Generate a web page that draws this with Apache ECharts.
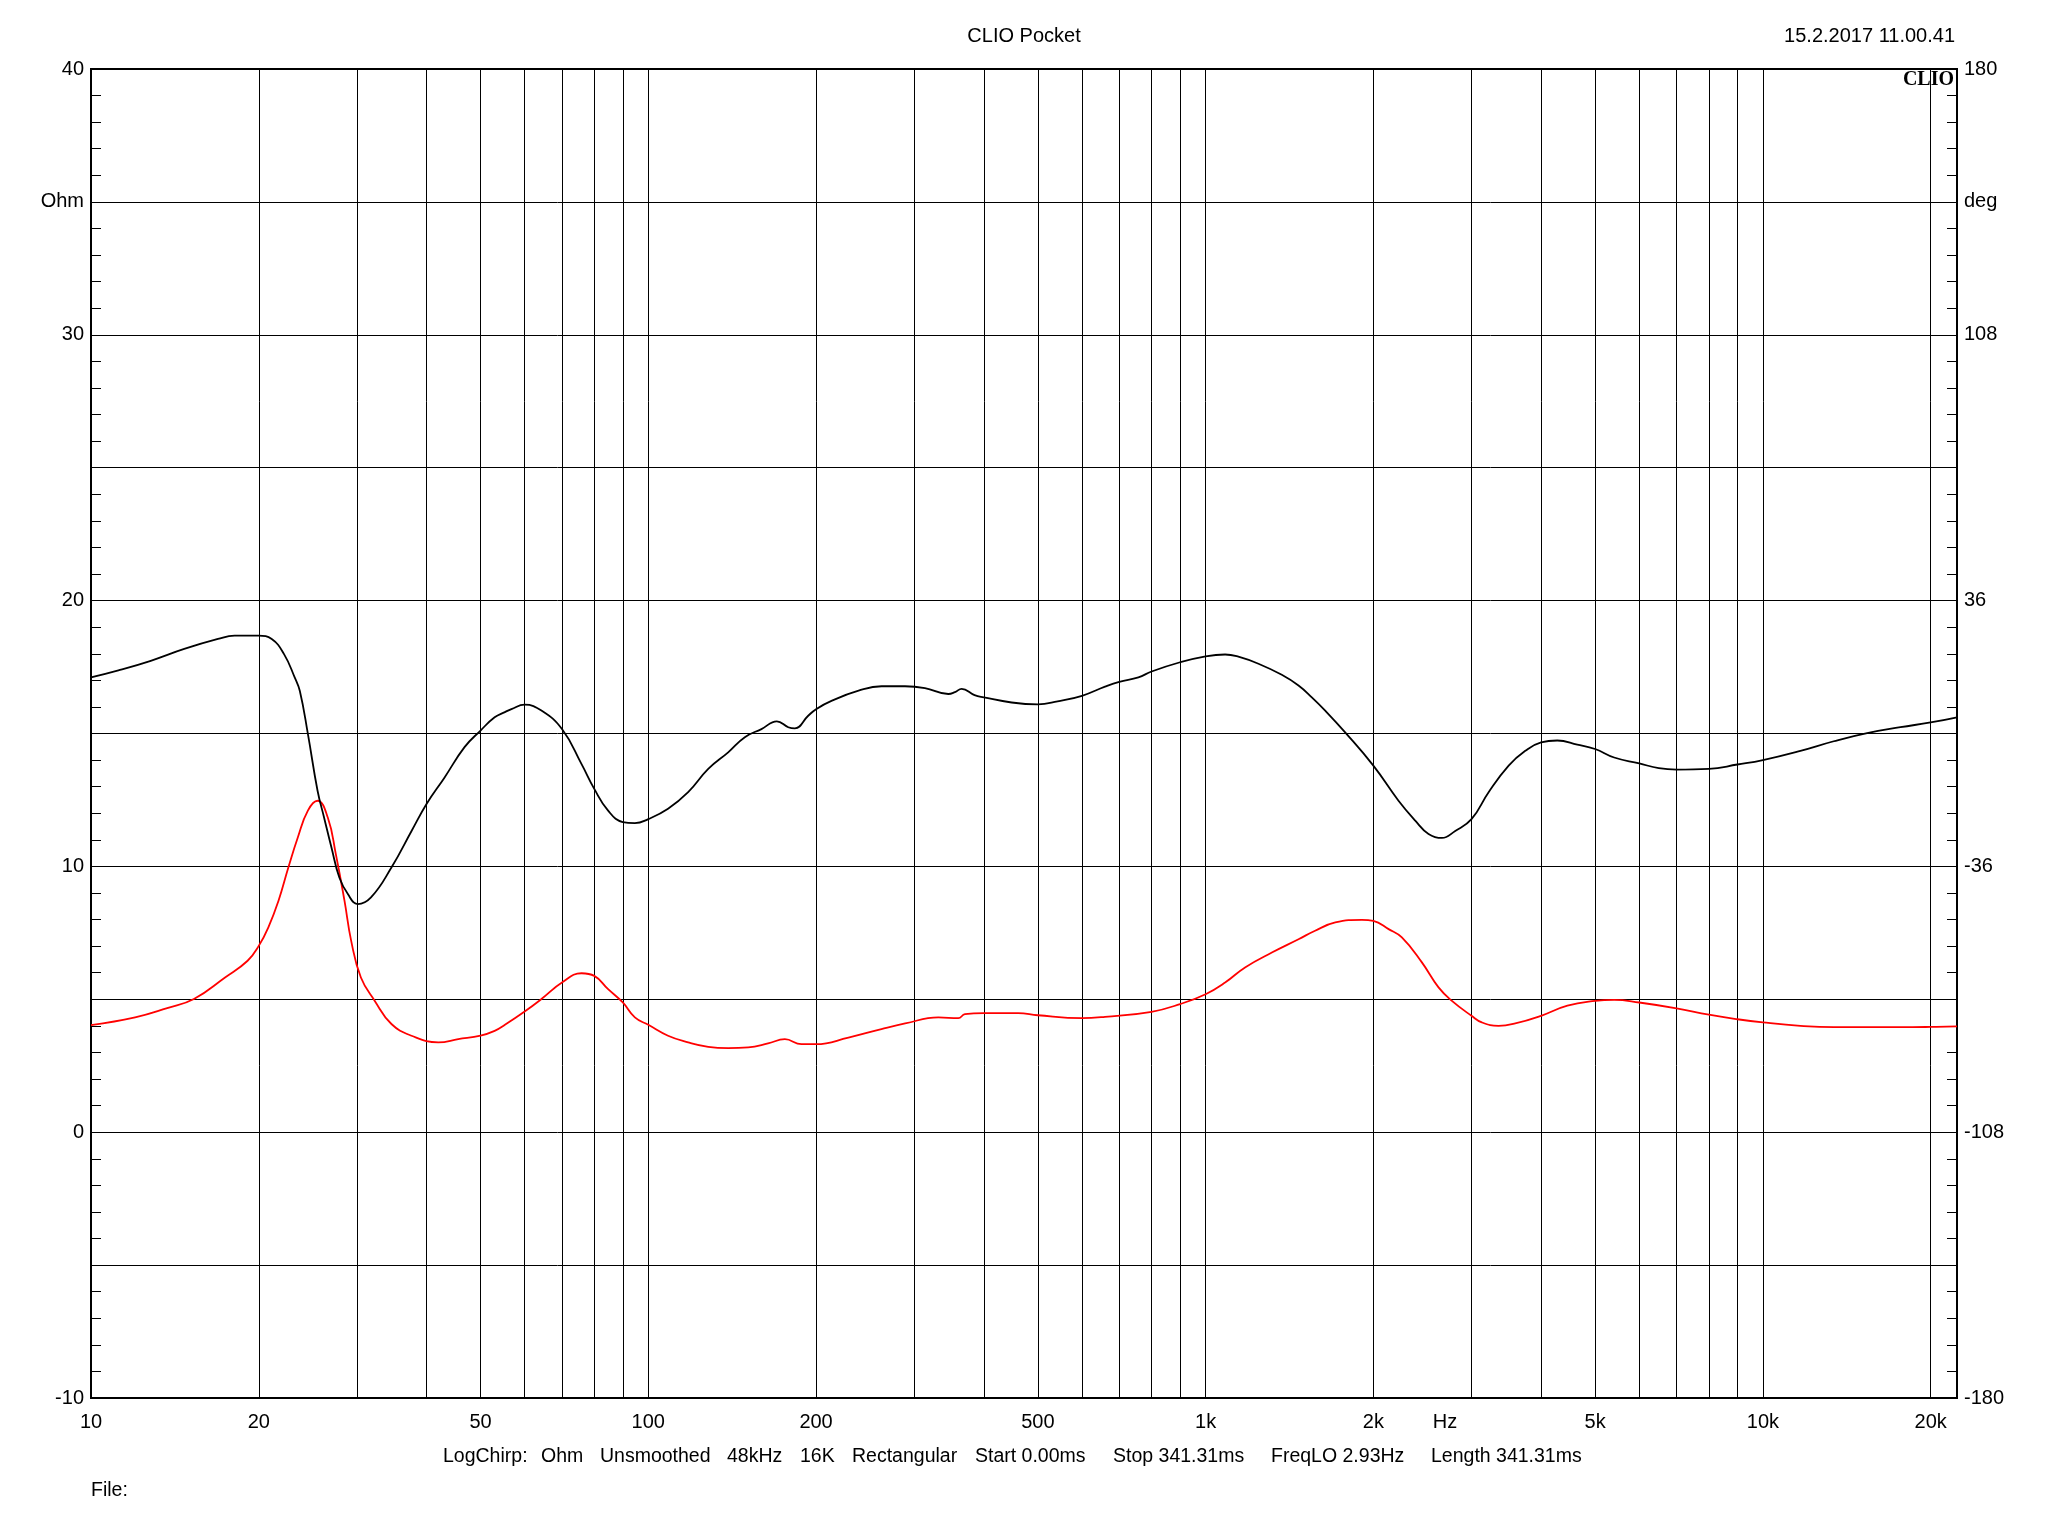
<!DOCTYPE html>
<html>
<head>
<meta charset="utf-8">
<script src="https://cdn.jsdelivr.net/npm/echarts@6/dist/echarts.min.js"></script>
<style>
html,body{margin:0;padding:0;background:#fff;}
#chart{width:2048px;height:1536px;}
</style>
</head>
<body>
<div id="chart"></div>
<script>
// Impedance magnitude (red, Ohm, left axis)
const impFreq = [10,12.0,13.7,15.3,17.4,19.1,20,20.8,21.7,22.6,23.5,24.5,25.5,26.6,27.5,28.5,29.3,30.5,32.3,34.6,37.6,42.0,45.6,50,53,55.3,60,64.3,70,75.9,80,84.7,90,94.6,100,108.5,117.9,128.1,139.1,151.1,164,175.8,188.3,200,228.6,262,289,331.5,360,370,400,461,500,600,660,800,900,1000,1084,1177,1315,1468,1572,1709,1908,2000,2130,2250,2444,2618,2767,3000,3131,3355,3594,4000,4459,5000,5409,6000,7000,8000,9000,10000,11677,13405,15382,17654,20000,22300];
const impOhm = [4.03,4.32,4.67,5.01,5.82,6.45,7.01,7.70,8.71,9.96,11.09,12.1,12.47,11.84,10.46,8.71,7.2,5.82,4.94,4.07,3.63,3.38,3.5,3.63,3.81,4.04,4.54,5.01,5.63,5.98,5.88,5.38,4.88,4.32,4.04,3.63,3.38,3.21,3.16,3.19,3.34,3.5,3.31,3.31,3.56,3.88,4.09,4.32,4.29,4.44,4.48,4.48,4.4,4.29,4.34,4.53,4.82,5.19,5.63,6.2,6.76,7.26,7.58,7.89,7.99,7.95,7.64,7.33,6.39,5.45,4.94,4.38,4.13,4.0,4.09,4.38,4.76,4.94,4.98,4.88,4.66,4.42,4.25,4.13,4.0,3.95,3.95,3.95,3.96,3.98];
// Impedance phase (black, deg, right axis)
const phaseFreq = [10,11.2,12.8,14.7,16.9,18.1,20,21.1,22.2,23.2,23.7,24.5,25.5,26.2,27.0,27.9,28.9,30.1,31.8,34.6,37.6,40,43.1,46.8,50,53,55.3,56.8,60,64.3,70,75.9,80,84.7,90,94.6,100,108.5,117.9,128.1,139.1,149,159.6,170.1,178.3,183.2,193.6,200,213.6,238.4,262.2,288.8,313.6,345.4,355,365,385,400,448.7,500,542.5,600,660,700,757.6,800,900,1000,1084,1145,1244,1370,1468,1551,1639,1780,2000,2219,2378,2512,2655,2805,3000,3220,3498,3747,4000,4276,4645,5000,5409,6000,6504,7000,8000,9000,10000,11677,13405,15382,17654,20000,22300];
const phaseDeg = [15.2,17.1,19.7,22.9,25.6,26.5,26.5,25.6,21.5,15.2,11.5,-0.1,-15.5,-22.8,-30.8,-39.0,-43.5,-46.2,-44.4,-36.3,-26.4,-19.1,-11.9,-3.7,0.8,4.4,5.8,6.6,7.8,6.2,1.2,-8.3,-15.0,-20.9,-24.0,-24.3,-23.2,-20.4,-15.9,-9.6,-5.1,-1.0,1.2,3.3,1.7,1.4,4.8,6.6,8.9,11.6,12.8,12.8,12.3,10.7,11.2,12.1,10.4,9.8,8.4,7.9,8.7,10.2,12.7,14.0,15.2,16.8,19.3,20.9,21.4,20.8,18.9,15.9,13.0,9.8,6.2,0.3,-8.7,-18.2,-23.6,-27.2,-28.3,-26.4,-23.2,-15.9,-8.7,-4.7,-2.4,-1.9,-3.0,-4.2,-6.5,-8.1,-9.4,-9.8,-9.6,-8.4,-7.2,-4.7,-2.1,0.1,1.7,3.0,4.4];

const xLabelValues = [10,20,50,100,200,500,1000,2000,5000,10000,20000];
const xGridValues = [20,30,40,50,60,70,80,90,100,200,300,400,500,600,700,800,900,1000,2000,3000,4000,5000,6000,7000,8000,9000,10000,20000];
const ohmTickText = {'40':'40','35':'Ohm','30':'30','20':'20','10':'10','0':'0','-10':'-10'};
const degTickText = {'180':'180','144':'deg','108':'108','36':'36','-36':'-36','-108':'-108','-180':'-180'};
const infoWords = ['LogChirp:','Ohm','Unsmoothed','48kHz','16K','Rectangular','Start 0.00ms','Stop 341.31ms','FreqLO 2.93Hz','Length 341.31ms'];
const infoX = [443,541,600,727,800,852,975,1113,1271,1431];

const FONT = 'Liberation Sans, Arial, sans-serif';
const FS = 20;
const FS_INFO = 19.5;
const chart = echarts.init(document.getElementById('chart'), null, {renderer:'canvas'});

function fmtHz(v){ return v >= 1000 ? (v/1000) + 'k' : String(v); }

const graphics = [
  {type:'text', x:1024, y:36, style:{text:'CLIO Pocket', font:FS+'px ' + FONT, fill:'#000', align:'center', verticalAlign:'middle'}},
  {type:'text', x:1955, y:36, style:{text:'15.2.2017 11.00.41', font:FS+'px ' + FONT, fill:'#000', align:'right', verticalAlign:'middle'}},
  {type:'text', right:94, top:70, style:{text:'CLIO', font:'bold 20px "Liberation Serif", "Times New Roman", serif', fill:'#000'}},
  {type:'text', x:1445, y:1422, style:{text:'Hz', font:FS+'px ' + FONT, fill:'#000', align:'center', verticalAlign:'middle'}},
  {type:'text', x:91, y:1491, style:{text:'File:', font:FS_INFO+'px ' + FONT, fill:'#000', align:'left', verticalAlign:'middle'}}
];
infoWords.forEach((w,i)=>{
  graphics.push({type:'text', x:infoX[i], y:1457, style:{text:w, font:FS_INFO+'px ' + FONT, fill:'#000', align:'left', verticalAlign:'middle'}});
});

const option = {
  animation:false,
  backgroundColor:'#fff',
  graphic: graphics,
  grid:{left:91, right:91, top:69, bottom:138, show:true, borderColor:'#000', borderWidth:2, backgroundColor:'transparent'},
  xAxis:{
    type:'log', logBase:10, min:10, max:22300,
    axisLine:{show:false},
    axisTick:{show:false, customValues:xGridValues},
    splitLine:{show:true, lineStyle:{color:'#000', width:1}},
    minorSplitLine:{show:false},
    axisLabel:{customValues:xLabelValues, formatter:fmtHz, fontSize:FS, fontFamily:FONT, color:'#000', margin:14}
  },
  yAxis:[
    {
      type:'value', min:-10, max:40, interval:5, position:'left',
      axisLine:{show:false},
      axisTick:{show:true, inside:true, length:10, lineStyle:{color:'#000'}},
      minorTick:{show:true, splitNumber:5, length:10, lineStyle:{color:'#000', width:1}},
      splitLine:{show:true, lineStyle:{color:'#000', width:1}},
      axisLabel:{formatter:v=>ohmTickText[String(v)]||'', fontSize:FS, fontFamily:FONT, color:'#000', margin:7}
    },
    {
      type:'value', min:-180, max:180, interval:36, position:'right',
      axisLine:{show:false},
      axisTick:{show:true, inside:true, length:10, lineStyle:{color:'#000'}},
      minorTick:{show:true, splitNumber:5, length:10, lineStyle:{color:'#000', width:1}},
      splitLine:{show:false},
      axisLabel:{formatter:v=>degTickText[String(v)]||'', fontSize:FS, fontFamily:FONT, color:'#000', margin:7}
    }
  ],
  series:[
    {
      name:'Impedance', type:'line', yAxisIndex:0, showSymbol:false, smooth:0.45,
      lineStyle:{color:'#ff0000', width:1.8}, itemStyle:{color:'#ff0000'},
      data: impFreq.map((f,i)=>[f, impOhm[i]]), z:3
    },
    {
      name:'Phase', type:'line', yAxisIndex:1, showSymbol:false, smooth:0.45,
      lineStyle:{color:'#000', width:1.8}, itemStyle:{color:'#000'},
      data: phaseFreq.map((f,i)=>[f, phaseDeg[i]]), z:4
    }
  ]
};
chart.setOption(option);
</script>
</body>
</html>
